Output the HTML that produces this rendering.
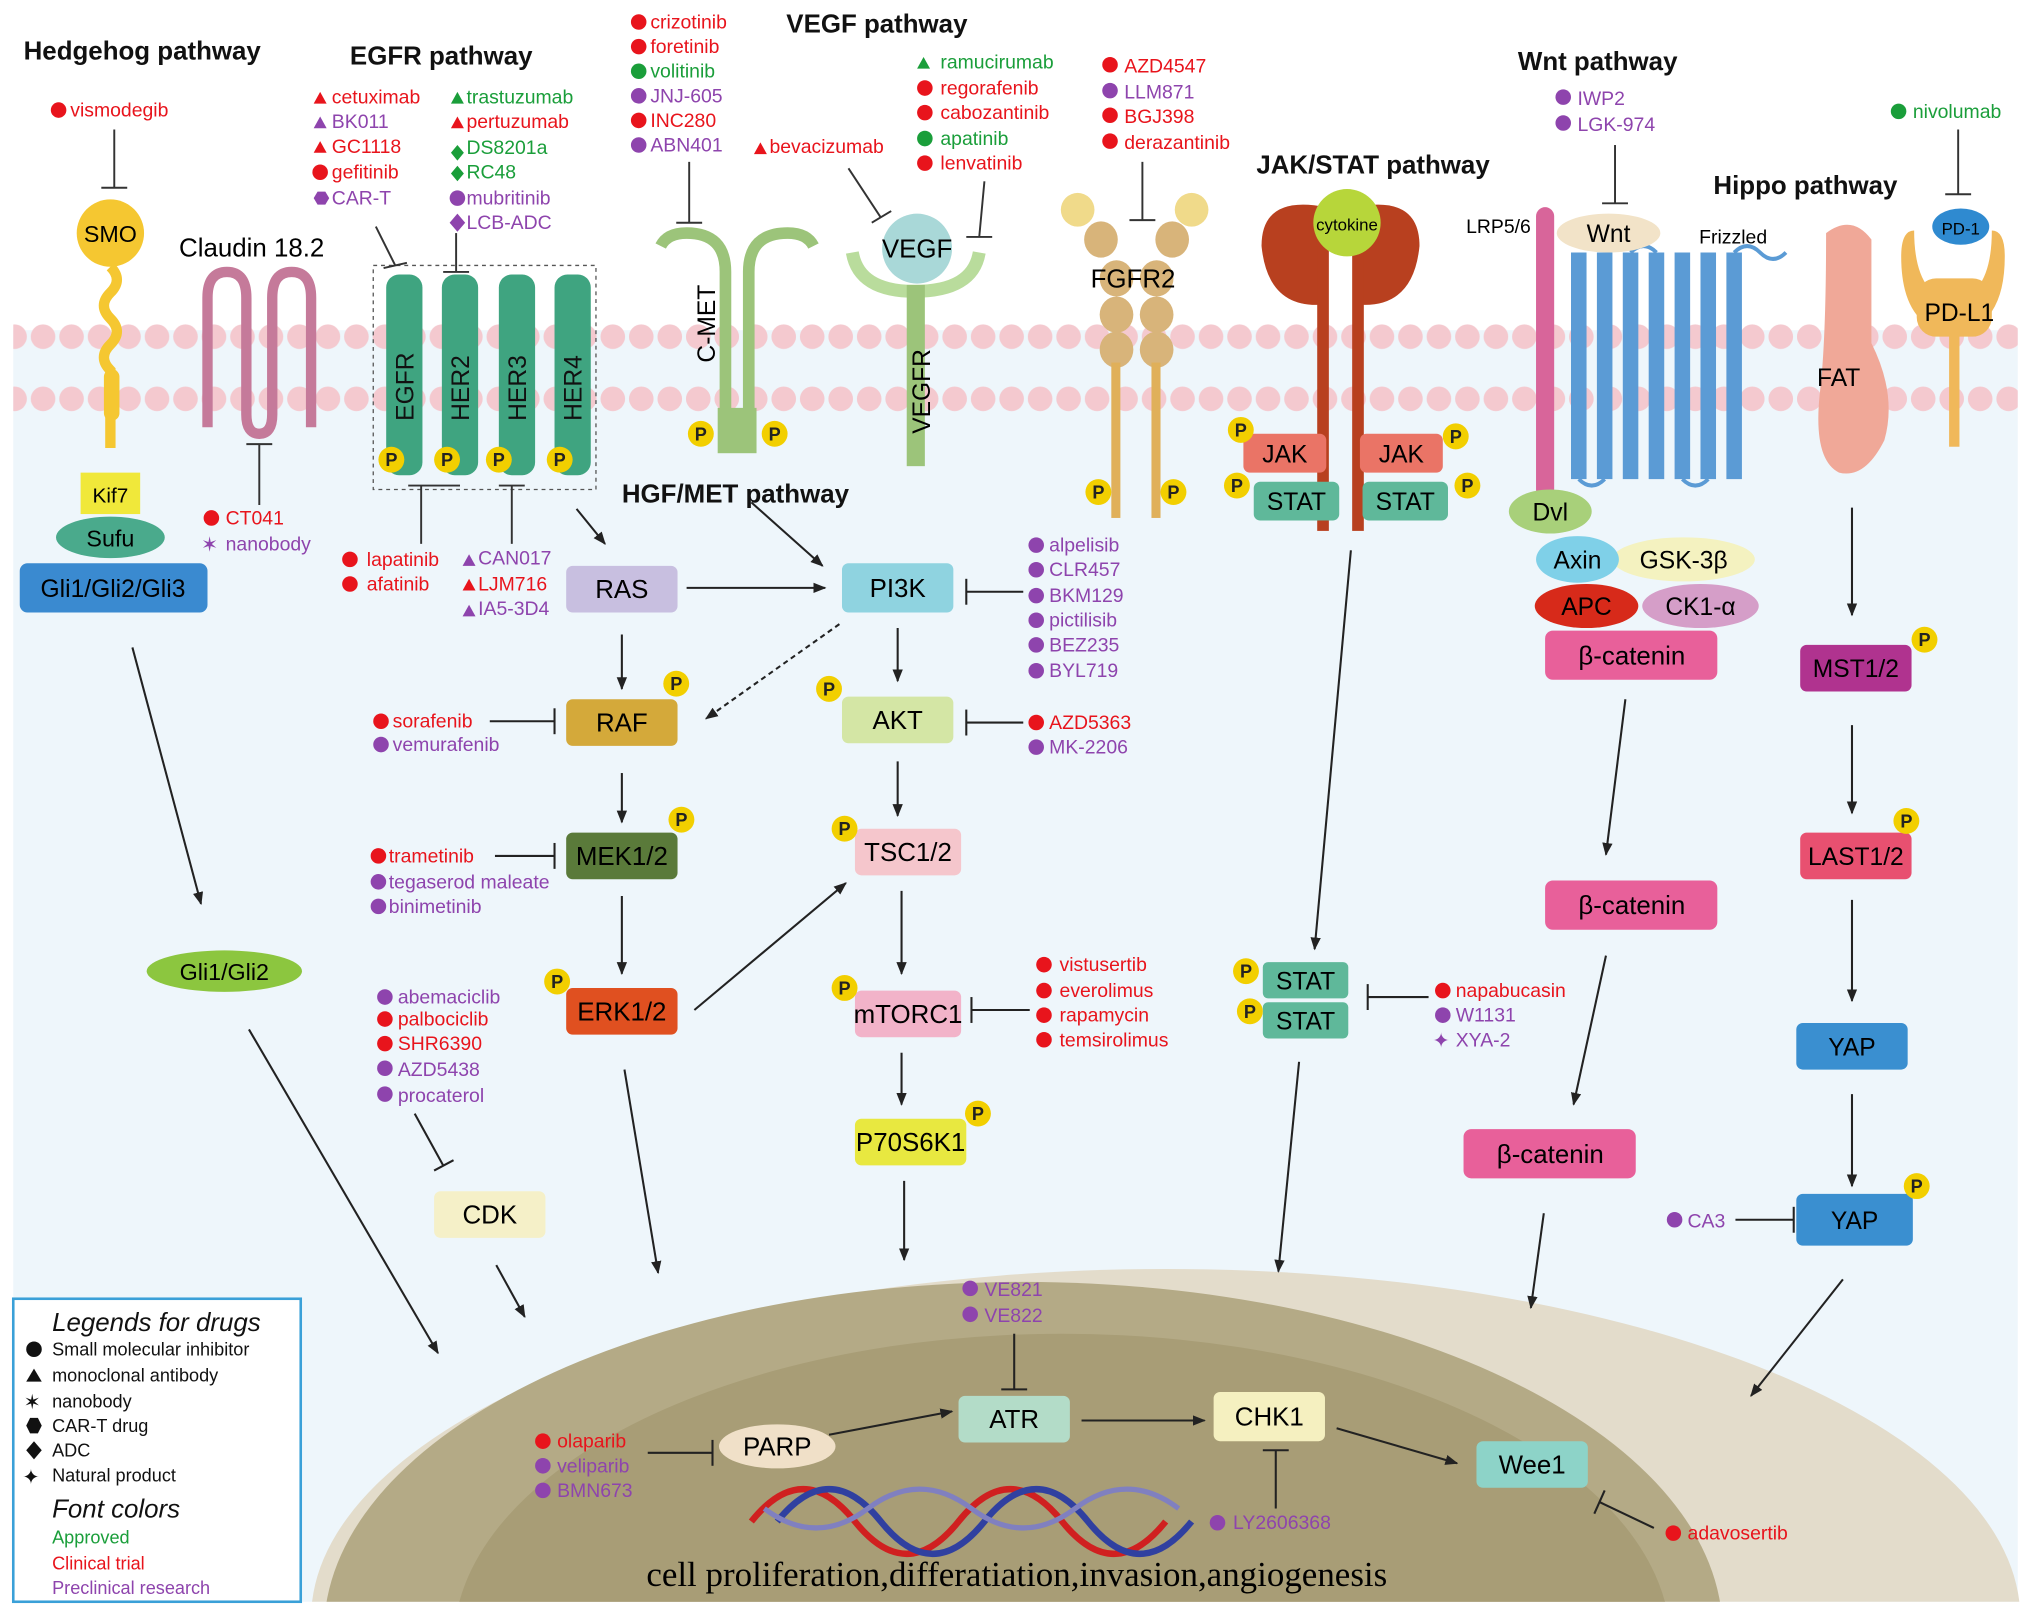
<!DOCTYPE html>
<html><head><meta charset="utf-8"><style>html,body{margin:0;padding:0;background:#fff;width:2031px;height:1616px;overflow:hidden}svg{display:block}text{font-family:"Liberation Sans",Arial,sans-serif}</style></head>
<body>
<svg width="2031" height="1616" viewBox="0 0 1568 1248" xmlns="http://www.w3.org/2000/svg">
<defs>
<marker id="a" markerWidth="10" markerHeight="10" refX="9" refY="5" orient="auto" markerUnits="userSpaceOnUse"><path d="M0,1 L10,5 L0,9 z" fill="#222"/></marker>
<pattern id="mem" x="0" y="249" width="22" height="48" patternUnits="userSpaceOnUse"><circle cx="11" cy="11" r="9.5" fill="#f4c9cf"/></pattern>
<clipPath id="nc"><rect x="0" y="900" width="1568" height="337"/></clipPath>
<g id="P"><circle r="10" fill="#f2cf00"/><text y="5" text-anchor="middle" font-size="14" font-weight="bold" fill="#222">P</text></g>
</defs>
<rect x="10" y="255" width="1548" height="982" fill="#eef6fb"/>
<rect x="10" y="249" width="1548" height="70" fill="url(#mem)"/>
<!-- nucleus -->
<g clip-path="url(#nc)">
<ellipse cx="900" cy="1250" rx="660" ry="270" fill="#e3dccb"/>
<ellipse cx="790" cy="1260" rx="540" ry="270" fill="#b4aa86"/>
<ellipse cx="820" cy="1270" rx="470" ry="240" fill="#a89d76"/>
</g>

<g font-weight="bold" font-size="20" fill="#111">
<text x="18" y="46">Hedgehog pathway</text>
<text x="270" y="50">EGFR pathway</text>
<text x="607" y="25">VEGF pathway</text>
<text x="1172" y="54">Wnt pathway</text>
<text x="970" y="134">JAK/STAT pathway</text>
<text x="1323" y="150">Hippo pathway</text>
<text x="480" y="388">HGF/MET pathway</text>
</g>
<text x="138" y="198" font-size="20">Claudin 18.2</text>

<!-- Hedgehog -->
<line x1="88" y1="100" x2="88" y2="145" stroke="#333" stroke-width="1.5"/><line x1="78" y1="145" x2="98" y2="145" stroke="#333" stroke-width="1.5"/>
<circle cx="85" cy="180" r="26" fill="#f5c731"/><text x="85" y="187" text-anchor="middle" font-size="18">SMO</text>
<path d="M85,206 q10,10 0,20 q-10,10 0,20 q10,10 0,20 q-10,10 0,20 v60" stroke="#f5c731" stroke-width="8" fill="none"/>
<rect x="80" y="285" width="12" height="40" rx="6" fill="#f5c731"/>
<rect x="62" y="365" width="46" height="32" fill="#f0e83a"/><text x="85" y="388" text-anchor="middle" font-size="16">Kif7</text>
<ellipse cx="85" cy="415" rx="42" ry="16" fill="#4aaa8c"/><text x="85" y="422" text-anchor="middle" font-size="18">Sufu</text>
<rect x="15" y="435" width="145" height="38" rx="6" fill="#3a8ad0"/><text x="87" y="461" text-anchor="middle" font-size="19">Gli1/Gli2/Gli3</text>
<path d="M160,330 V230 q0,-20 15,-20 q15,0 15,20 v90 q0,15 10,15 q10,0 10,-15 v-90 q0,-20 15,-20 q15,0 15,20 v100" stroke="#c57a9a" stroke-width="8" fill="none"/>
<line x1="200" y1="343" x2="200" y2="390" stroke="#333" stroke-width="1.5"/><line x1="190" y1="343" x2="210" y2="343" stroke="#333" stroke-width="1.5"/>
<ellipse cx="173" cy="750" rx="60" ry="16" fill="#8cc63f"/><text x="173" y="757" text-anchor="middle" font-size="18">Gli1/Gli2</text>

<!-- EGFR -->
<rect x="288" y="205" width="172" height="173" fill="none" stroke="#555" stroke-dasharray="3,3"/>
<g fill="#3fa480"><rect x="298" y="212" width="28" height="155" rx="10"/><rect x="341" y="212" width="28" height="155" rx="10"/><rect x="385" y="212" width="28" height="155" rx="10"/><rect x="428" y="212" width="28" height="155" rx="10"/></g>
<g font-size="19" fill="#111"><text transform="translate(319,325) rotate(-90)">EGFR</text><text transform="translate(362,325) rotate(-90)">HER2</text><text transform="translate(406,325) rotate(-90)">HER3</text><text transform="translate(449,325) rotate(-90)">HER4</text></g>
<use href="#P" x="302" y="355"/><use href="#P" x="345" y="355"/><use href="#P" x="385" y="355"/><use href="#P" x="432" y="355"/>
<g stroke="#333" stroke-width="1.5"><line x1="290" y1="175" x2="305" y2="205"/><line x1="296" y1="207" x2="314" y2="203"/><line x1="352" y1="180" x2="352" y2="210"/><line x1="342" y1="210" x2="362" y2="210"/>
<line x1="325" y1="375" x2="325" y2="420"/><line x1="315" y1="375" x2="355" y2="375"/><line x1="395" y1="375" x2="395" y2="420"/><line x1="385" y1="375" x2="405" y2="375"/></g>

<!-- MET -->
<g fill="none" stroke="#9cc47a" stroke-width="9"><path d="M560,330 V210 q0,-30 -30,-30 q-15,0 -20,10"/><path d="M578,330 V210 q0,-30 30,-30 q15,0 20,10"/></g>
<rect x="554" y="315" width="30" height="35" fill="#9cc47a"/>
<text transform="translate(552,280) rotate(-90)" font-size="19">C-MET</text>
<use href="#P" x="541" y="335"/><use href="#P" x="598" y="335"/>
<line x1="532" y1="125" x2="532" y2="172" stroke="#333" stroke-width="1.5"/><line x1="522" y1="172" x2="542" y2="172" stroke="#333" stroke-width="1.5"/>
<!-- VEGF -->
<path d="M658,195 q5,30 48,30 q45,0 50,-30" stroke="#b9dc9c" stroke-width="10" fill="none"/>
<rect x="700" y="220" width="14" height="140" fill="#9cc47a"/>
<circle cx="708" cy="192" r="27" fill="#a9d8d8"/><text x="708" y="199" text-anchor="middle" font-size="20">VEGF</text>
<text transform="translate(718,335) rotate(-90)" font-size="19">VEGFR</text>
<g stroke="#333" stroke-width="1.5"><line x1="655" y1="130" x2="680" y2="168"/><line x1="673" y1="172" x2="688" y2="163"/><line x1="760" y1="140" x2="756" y2="183"/><line x1="746" y1="183" x2="766" y2="183"/></g>
<!-- FGFR2 -->
<g fill="#d8b47a"><circle cx="832" cy="162" r="13" fill="#f0da8a"/><circle cx="920" cy="162" r="13" fill="#f0da8a"/>
<ellipse cx="850" cy="185" rx="13" ry="14"/><ellipse cx="905" cy="185" rx="13" ry="14"/><ellipse cx="862" cy="215" rx="13" ry="14"/><ellipse cx="893" cy="215" rx="13" ry="14"/>
<ellipse cx="862" cy="243" rx="13" ry="14"/><ellipse cx="893" cy="243" rx="13" ry="14"/><ellipse cx="862" cy="270" rx="13" ry="14"/><ellipse cx="893" cy="270" rx="13" ry="14"/></g>
<rect x="858" y="280" width="7" height="120" fill="#e0b05a"/><rect x="889" y="280" width="7" height="120" fill="#e0b05a"/>
<text x="842" y="222" font-size="20">FGFR2</text>
<use href="#P" x="848" y="380"/><use href="#P" x="906" y="380"/>
<line x1="882" y1="125" x2="882" y2="170" stroke="#333" stroke-width="1.5"/><line x1="872" y1="170" x2="892" y2="170" stroke="#333" stroke-width="1.5"/>
<!-- JAK/STAT -->
<path d="M1024,235 q-45,5 -50,-45 q0,-40 50,-30 z" fill="#b8401f"/>
<path d="M1046,235 q45,5 50,-45 q0,-40 -50,-30 z" fill="#b8401f"/>
<rect x="1017" y="190" width="9" height="220" fill="#b8401f"/>
<rect x="1044" y="190" width="9" height="220" fill="#b8401f"/>
<circle cx="1040" cy="172" r="26" fill="#b7d63a"/><text x="1040" y="178" text-anchor="middle" font-size="13">cytokine</text>
<rect x="960" y="335" width="64" height="30" rx="5" fill="#ea7466"/><text x="992" y="357" text-anchor="middle" font-size="19">JAK</text>
<rect x="1050" y="335" width="64" height="30" rx="5" fill="#ea7466"/><text x="1082" y="357" text-anchor="middle" font-size="19">JAK</text>
<rect x="968" y="372" width="66" height="30" rx="5" fill="#5fb89a"/><text x="1001" y="394" text-anchor="middle" font-size="19">STAT</text>
<rect x="1052" y="372" width="66" height="30" rx="5" fill="#5fb89a"/><text x="1085" y="394" text-anchor="middle" font-size="19">STAT</text>
<use href="#P" x="958" y="332"/><use href="#P" x="1124" y="337"/><use href="#P" x="955" y="375"/><use href="#P" x="1133" y="375"/>
<rect x="975" y="743" width="66" height="28" rx="4" fill="#5fb89a"/><text x="1008" y="764" text-anchor="middle" font-size="19">STAT</text>
<rect x="975" y="774" width="66" height="28" rx="4" fill="#5fb89a"/><text x="1008" y="795" text-anchor="middle" font-size="19">STAT</text>
<use href="#P" x="962" y="750"/><use href="#P" x="965" y="781"/>
<!-- Wnt -->
<rect x="1186" y="160" width="14" height="225" rx="7" fill="#d8659a"/>
<g fill="#5b9bd5"><rect x="1213" y="195" width="12" height="175"/><rect x="1233" y="195" width="12" height="175"/><rect x="1253" y="195" width="12" height="175"/><rect x="1273" y="195" width="12" height="175"/><rect x="1293" y="195" width="12" height="175"/><rect x="1313" y="195" width="12" height="175"/><rect x="1333" y="195" width="12" height="175"/></g>
<path d="M1219,370 q10,10 20,0 M1259,195 q10,-10 20,0 M1299,370 q10,10 20,0 M1339,195 q10,-10 20,0 q10,10 20,0" stroke="#5b9bd5" stroke-width="3" fill="none"/>
<ellipse cx="1242" cy="180" rx="40" ry="15" fill="#f2e3c8"/><text x="1242" y="187" text-anchor="middle" font-size="19">Wnt</text>
<text x="1132" y="180" font-size="15">LRP5/6</text><text x="1312" y="188" font-size="15">Frizzled</text>
<line x1="1247" y1="112" x2="1247" y2="157" stroke="#333" stroke-width="1.5"/><line x1="1237" y1="157" x2="1257" y2="157" stroke="#333" stroke-width="1.5"/>
<ellipse cx="1197" cy="395" rx="32" ry="17" fill="#a8d07a"/><text x="1197" y="402" text-anchor="middle" font-size="19">Dvl</text>
<ellipse cx="1300" cy="432" rx="55" ry="17" fill="#f4f2c0"/><text x="1300" y="439" text-anchor="middle" font-size="19">GSK-3β</text>
<ellipse cx="1218" cy="432" rx="32" ry="18" fill="#7fd0e8"/><text x="1218" y="439" text-anchor="middle" font-size="19">Axin</text>
<ellipse cx="1313" cy="468" rx="45" ry="17" fill="#d59ec8"/><text x="1313" y="475" text-anchor="middle" font-size="19">CK1-α</text>
<ellipse cx="1225" cy="468" rx="40" ry="17" fill="#d72a1a"/><text x="1225" y="475" text-anchor="middle" font-size="19">APC</text>
<rect x="1193" y="487" width="133" height="38" rx="6" fill="#e8609a"/><text x="1260" y="513" text-anchor="middle" font-size="20">β-catenin</text>
<rect x="1193" y="680" width="133" height="38" rx="6" fill="#e8609a"/><text x="1260" y="706" text-anchor="middle" font-size="20">β-catenin</text>
<rect x="1130" y="872" width="133" height="38" rx="6" fill="#e8609a"/><text x="1197" y="898" text-anchor="middle" font-size="20">β-catenin</text>
<!-- Hippo -->
<path d="M1410,180 q20,-15 35,5 v80 q20,40 10,75 q-15,30 -35,25 q-20,-10 -15,-60 q5,-40 5,-125 z" fill="#f0a898"/>
<text x="1403" y="298" font-size="19">FAT</text>
<path d="M1478,178 q0,50 30,55 q30,-5 30,-55 q10,0 10,20 q0,55 -40,60 q-40,-5 -40,-60 q0,-20 10,-20z" fill="#f0b85a"/>
<rect x="1480" y="215" width="58" height="45" rx="15" fill="#f0b85a"/>
<rect x="1505" y="255" width="8" height="90" fill="#f0b85a"/>
<ellipse cx="1514" cy="175" rx="22" ry="14" fill="#2f8ad0"/><text x="1514" y="181" text-anchor="middle" font-size="13">PD-1</text>
<text x="1486" y="248" font-size="19">PD-L1</text>
<line x1="1512" y1="100" x2="1512" y2="150" stroke="#333" stroke-width="1.5"/><line x1="1502" y1="150" x2="1522" y2="150" stroke="#333" stroke-width="1.5"/>
<rect x="1390" y="498" width="86" height="36" rx="5" fill="#b0338f"/><text x="1433" y="523" text-anchor="middle" font-size="19">MST1/2</text><use href="#P" x="1486" y="494"/>
<rect x="1390" y="643" width="86" height="36" rx="5" fill="#e85070"/><text x="1433" y="668" text-anchor="middle" font-size="19">LAST1/2</text><use href="#P" x="1472" y="634"/>
<rect x="1387" y="790" width="86" height="36" rx="5" fill="#3a8fd0"/><text x="1430" y="815" text-anchor="middle" font-size="19">YAP</text>
<rect x="1387" y="922" width="90" height="40" rx="5" fill="#3a8fd0"/><text x="1432" y="949" text-anchor="middle" font-size="19">YAP</text><use href="#P" x="1480" y="916"/>

<!-- core nodes -->
<g font-size="20" text-anchor="middle">
<rect x="437" y="437" width="86" height="36" rx="5" fill="#c8bfe0"/><text x="480" y="462">RAS</text>
<rect x="650" y="435" width="86" height="38" rx="5" fill="#8fd3e0"/><text x="693" y="461">PI3K</text>
<rect x="437" y="540" width="86" height="36" rx="5" fill="#d4a93a"/><text x="480" y="565">RAF</text>
<rect x="650" y="538" width="86" height="36" rx="5" fill="#d4e6a5"/><text x="693" y="563">AKT</text>
<rect x="437" y="643" width="86" height="36" rx="5" fill="#5a7a3a"/><text x="480" y="668">MEK1/2</text>
<rect x="660" y="640" width="82" height="36" rx="5" fill="#f5c6cc"/><text x="701" y="665">TSC1/2</text>
<rect x="437" y="763" width="86" height="36" rx="5" fill="#e05020"/><text x="480" y="788">ERK1/2</text>
<rect x="660" y="765" width="82" height="36" rx="5" fill="#f2b3c9"/><text x="701" y="790">mTORC1</text>
<rect x="660" y="864" width="86" height="36" rx="5" fill="#e8e840"/><text x="703" y="889">P70S6K1</text>
<rect x="335" y="920" width="86" height="36" rx="5" fill="#f5f0c8"/><text x="378" y="945">CDK</text>
<rect x="740" y="1078" width="86" height="36" rx="5" fill="#b3dcc8"/><text x="783" y="1103">ATR</text>
<rect x="937" y="1075" width="86" height="38" rx="5" fill="#f5f0c0"/><text x="980" y="1101">CHK1</text>
<rect x="1140" y="1113" width="86" height="36" rx="5" fill="#8dd3c8"/><text x="1183" y="1138">Wee1</text>
<ellipse cx="600" cy="1117" rx="45" ry="17" fill="#f0e0c8"/><text x="600" y="1124">PARP</text>
</g>
<use href="#P" x="522" y="528"/><use href="#P" x="640" y="532"/><use href="#P" x="526" y="633"/><use href="#P" x="652" y="640"/><use href="#P" x="430" y="758"/><use href="#P" x="652" y="763"/><use href="#P" x="755" y="860"/>
<!-- DNA -->
<path d="M580,1175 q40,-50 80,0 t80,0 t80,0 t80,0" stroke="#d02020" stroke-width="5" fill="none"/>
<path d="M600,1175 q40,-50 80,0 t80,0 t80,0 t80,0" stroke="#3040a0" stroke-width="5" fill="none"/>
<path d="M590,1165 q40,30 80,0 t80,0 t80,0 t80,0" stroke="#8080c0" stroke-width="4" fill="none"/>
<text x="785" y="1225" text-anchor="middle" font-size="27" style="font-family:'Liberation Serif',serif">cell proliferation,differatiation,invasion,angiogenesis</text>

<!-- arrows -->
<g stroke="#222" stroke-width="1.6" fill="none" marker-end="url(#a)">
<line x1="102" y1="500" x2="155" y2="698"/><line x1="192" y1="795" x2="338" y2="1045"/>
<line x1="445" y1="393" x2="467" y2="420"/><line x1="580" y1="388" x2="635" y2="437"/>
<line x1="530" y1="454" x2="637" y2="454"/><line x1="480" y1="490" x2="480" y2="532"/><line x1="693" y1="485" x2="693" y2="526"/>
<line x1="480" y1="597" x2="480" y2="635"/><line x1="480" y1="692" x2="480" y2="752"/><line x1="693" y1="588" x2="693" y2="630"/>
<line x1="536" y1="780" x2="653" y2="682"/><line x1="696" y1="688" x2="696" y2="752"/><line x1="696" y1="813" x2="696" y2="853"/>
<line x1="698" y1="912" x2="698" y2="973"/><line x1="482" y1="826" x2="508" y2="983"/><line x1="383" y1="977" x2="405" y2="1017"/>
<line x1="1043" y1="425" x2="1015" y2="733"/><line x1="1003" y1="820" x2="987" y2="982"/>
<line x1="1255" y1="540" x2="1240" y2="660"/><line x1="1240" y1="738" x2="1215" y2="853"/><line x1="1192" y1="937" x2="1182" y2="1010"/>
<line x1="1430" y1="392" x2="1430" y2="475"/><line x1="1430" y1="560" x2="1430" y2="628"/><line x1="1430" y1="695" x2="1430" y2="773"/>
<line x1="1430" y1="845" x2="1430" y2="916"/><line x1="1423" y1="988" x2="1352" y2="1078"/>
<line x1="640" y1="1108" x2="735" y2="1090"/><line x1="835" y1="1097" x2="930" y2="1097"/><line x1="1032" y1="1103" x2="1125" y2="1130"/>
<line x1="648" y1="482" x2="545" y2="555" stroke-dasharray="4,3"/>
</g>
<!-- inhibitions -->
<g stroke="#222" stroke-width="1.6">
<line x1="378" y1="557" x2="428" y2="557"/><line x1="428" y1="547" x2="428" y2="567"/>
<line x1="382" y1="661" x2="428" y2="661"/><line x1="428" y1="651" x2="428" y2="671"/>
<line x1="790" y1="457" x2="746" y2="457"/><line x1="746" y1="447" x2="746" y2="467"/>
<line x1="790" y1="558" x2="746" y2="558"/><line x1="746" y1="548" x2="746" y2="568"/>
<line x1="795" y1="780" x2="750" y2="780"/><line x1="750" y1="770" x2="750" y2="790"/>
<line x1="1103" y1="770" x2="1056" y2="770"/><line x1="1056" y1="760" x2="1056" y2="780"/>
<line x1="1340" y1="942" x2="1385" y2="942"/><line x1="1385" y1="932" x2="1385" y2="952"/>
<line x1="320" y1="860" x2="342" y2="900"/><line x1="335" y1="904" x2="350" y2="896"/>
<line x1="783" y1="1030" x2="783" y2="1073"/><line x1="773" y1="1073" x2="793" y2="1073"/>
<line x1="985" y1="1165" x2="985" y2="1120"/><line x1="975" y1="1120" x2="995" y2="1120"/>
<line x1="1277" y1="1180" x2="1235" y2="1160"/><line x1="1231" y1="1169" x2="1239" y2="1151"/>
<line x1="500" y1="1122" x2="550" y2="1122"/><line x1="550" y1="1112" x2="550" y2="1132"/>
</g>

<!-- drug lists -->
<g font-size="15">
<g fill="#e8141c"><circle cx="45" cy="85" r="6"/><text x="54" y="90">vismodegib</text></g>
<g fill="#e8141c"><path d="M242,80 l5,-9 l5,9z"/><text x="256" y="80">cetuximab</text><path d="M242,118 l5,-9 l5,9z"/><text x="256" y="118">GC1118</text><circle cx="247" cy="133" r="6"/><text x="256" y="138">gefitinib</text></g>
<g fill="#8e44ad"><path d="M242,99 l5,-9 l5,9z"/><text x="256" y="99">BK011</text><polygon points="242,153 245,148 251,148 254,153 251,158 245,158"/><text x="256" y="158">CAR-T</text></g>
<g fill="#1a9e3a"><path d="M348,80 l5,-9 l5,9z"/><text x="360" y="80">trastuzumab</text><path d="M348,118 l5,-6 l5,6 l-5,6z"/><text x="360" y="119">DS8201a</text><path d="M348,134 l5,-6 l5,6 l-5,6z"/><text x="360" y="138">RC48</text></g>
<g fill="#e8141c"><path d="M348,99 l5,-9 l5,9z"/><text x="360" y="99">pertuzumab</text></g>
<g fill="#8e44ad"><circle cx="353" cy="153" r="6"/><text x="360" y="158">mubritinib</text><path d="M347,172 l6,-7 l6,7 l-6,7z"/><text x="360" y="177">LCB-ADC</text></g>
<g fill="#e8141c"><circle cx="493" cy="17" r="6"/><text x="502" y="22">crizotinib</text><circle cx="493" cy="36" r="6"/><text x="502" y="41">foretinib</text><circle cx="493" cy="93" r="6"/><text x="502" y="98">INC280</text></g>
<g fill="#1a9e3a"><circle cx="493" cy="55" r="6"/><text x="502" y="60">volitinib</text></g>
<g fill="#8e44ad"><circle cx="493" cy="74" r="6"/><text x="502" y="79">JNJ-605</text><circle cx="493" cy="112" r="6"/><text x="502" y="117">ABN401</text></g>
<g fill="#e8141c"><path d="M582,119 l5,-9 l5,9z"/><text x="594" y="118">bevacizumab</text></g>
<g fill="#1a9e3a"><path d="M708,53 l5,-9 l5,9z"/><text x="726" y="53">ramucirumab</text><circle cx="714" cy="107" r="6"/><text x="726" y="112">apatinib</text></g>
<g fill="#e8141c"><circle cx="714" cy="68" r="6"/><text x="726" y="73">regorafenib</text><circle cx="714" cy="87" r="6"/><text x="726" y="92">cabozantinib</text><circle cx="714" cy="126" r="6"/><text x="726" y="131">lenvatinib</text></g>
<g fill="#e8141c"><circle cx="857" cy="50" r="6"/><text x="868" y="56">AZD4547</text><circle cx="857" cy="89" r="6"/><text x="868" y="95">BGJ398</text><circle cx="857" cy="109" r="6"/><text x="868" y="115">derazantinib</text></g>
<g fill="#8e44ad"><circle cx="857" cy="70" r="6"/><text x="868" y="76">LLM871</text></g>
<g fill="#8e44ad"><circle cx="1207" cy="75" r="6"/><text x="1218" y="81">IWP2</text><circle cx="1207" cy="95" r="6"/><text x="1218" y="101">LGK-974</text></g>
<g fill="#1a9e3a"><circle cx="1466" cy="86" r="6"/><text x="1477" y="91">nivolumab</text></g>
<g fill="#e8141c"><circle cx="163" cy="400" r="6"/><text x="174" y="405">CT041</text></g>
<g fill="#8e44ad"><text x="155" y="426" font-size="16">✶</text><text x="174" y="425">nanobody</text></g>
<g fill="#e8141c"><circle cx="270" cy="432" r="6"/><text x="283" y="437">lapatinib</text><circle cx="270" cy="451" r="6"/><text x="283" y="456">afatinib</text></g>
<g fill="#8e44ad"><path d="M357,437 l5,-9 l5,9z"/><text x="369" y="436">CAN017</text><path d="M357,476 l5,-9 l5,9z"/><text x="369" y="475">IA5-3D4</text></g>
<g fill="#e8141c"><path d="M357,456 l5,-9 l5,9z"/><text x="369" y="456">LJM716</text></g>
<g fill="#8e44ad"><circle cx="800" cy="421" r="6"/><text x="810" y="426">alpelisib</text><circle cx="800" cy="440" r="6"/><text x="810" y="445">CLR457</text><circle cx="800" cy="460" r="6"/><text x="810" y="465">BKM129</text><circle cx="800" cy="479" r="6"/><text x="810" y="484">pictilisib</text><circle cx="800" cy="498" r="6"/><text x="810" y="503">BEZ235</text><circle cx="800" cy="518" r="6"/><text x="810" y="523">BYL719</text></g>
<g fill="#e8141c"><circle cx="800" cy="558" r="6"/><text x="810" y="563">AZD5363</text></g>
<g fill="#8e44ad"><circle cx="800" cy="577" r="6"/><text x="810" y="582">MK-2206</text></g>
<g fill="#e8141c"><circle cx="294" cy="557" r="6"/><text x="303" y="562">sorafenib</text><circle cx="292" cy="661" r="6"/><text x="300" y="666">trametinib</text></g>
<g fill="#8e44ad"><circle cx="294" cy="575" r="6"/><text x="303" y="580">vemurafenib</text><circle cx="292" cy="681" r="6"/><text x="300" y="686">tegaserod maleate</text><circle cx="292" cy="700" r="6"/><text x="300" y="705">binimetinib</text></g>
<g fill="#8e44ad"><circle cx="297" cy="770" r="6"/><text x="307" y="775">abemaciclib</text><circle cx="297" cy="825" r="6"/><text x="307" y="831">AZD5438</text><circle cx="297" cy="845" r="6"/><text x="307" y="851">procaterol</text></g>
<g fill="#e8141c"><circle cx="297" cy="787" r="6"/><text x="307" y="792">palbociclib</text><circle cx="297" cy="806" r="6"/><text x="307" y="811">SHR6390</text></g>
<g fill="#e8141c"><circle cx="806" cy="745" r="6"/><text x="818" y="750">vistusertib</text><circle cx="806" cy="765" r="6"/><text x="818" y="770">everolimus</text><circle cx="806" cy="784" r="6"/><text x="818" y="789">rapamycin</text><circle cx="806" cy="803" r="6"/><text x="818" y="808">temsirolimus</text></g>
<g fill="#e8141c"><circle cx="1114" cy="765" r="6"/><text x="1124" y="770">napabucasin</text></g>
<g fill="#8e44ad"><circle cx="1114" cy="784" r="6"/><text x="1124" y="789">W1131</text><text x="1106" y="809" font-size="16">✦</text><text x="1124" y="808">XYA-2</text></g>
<g fill="#8e44ad"><circle cx="1293" cy="942" r="6"/><text x="1303" y="948">CA3</text></g>
<g fill="#8e44ad"><circle cx="749" cy="995" r="6"/><text x="760" y="1001">VE821</text><circle cx="749" cy="1015" r="6"/><text x="760" y="1021">VE822</text></g>
<g fill="#e8141c"><circle cx="419" cy="1113" r="6"/><text x="430" y="1118">olaparib</text></g>
<g fill="#8e44ad"><circle cx="419" cy="1132" r="6"/><text x="430" y="1137">veliparib</text><circle cx="419" cy="1151" r="6"/><text x="430" y="1156">BMN673</text><circle cx="940" cy="1176" r="6"/><text x="952" y="1181">LY2606368</text></g>
<g fill="#e8141c"><circle cx="1292" cy="1184" r="6"/><text x="1303" y="1189">adavosertib</text></g>
</g>

<!-- legend -->
<rect x="10" y="1003" width="222" height="234" fill="#fff" stroke="#3aa0d8" stroke-width="2"/>
<g font-size="14" fill="#111">
<text x="40" y="1028" font-size="20" font-style="italic">Legends for drugs</text>
<circle cx="26" cy="1042" r="6"/><text x="40" y="1047">Small molecular inhibitor</text>
<path d="M20,1067 l6,-10 l6,10z"/><text x="40" y="1067">monoclonal antibody</text>
<text x="18" y="1088" font-size="16">✶</text><text x="40" y="1087">nanobody</text>
<polygon points="20,1101 23,1095 29,1095 32,1101 29,1107 23,1107"/><text x="40" y="1106">CAR-T drug</text>
<path d="M20,1120 l6,-7 l6,7 l-6,7z"/><text x="40" y="1125">ADC</text>
<text x="17" y="1146" font-size="16">✦</text><text x="40" y="1144">Natural product</text>
<text x="40" y="1172" font-size="20" font-style="italic">Font colors</text>
<text x="40" y="1192" fill="#1a9e3a">Approved</text>
<text x="40" y="1212" fill="#e8141c">Clinical trial</text>
<text x="40" y="1231" fill="#8e44ad">Preclinical research</text>
</g>
</svg>
</body></html>
